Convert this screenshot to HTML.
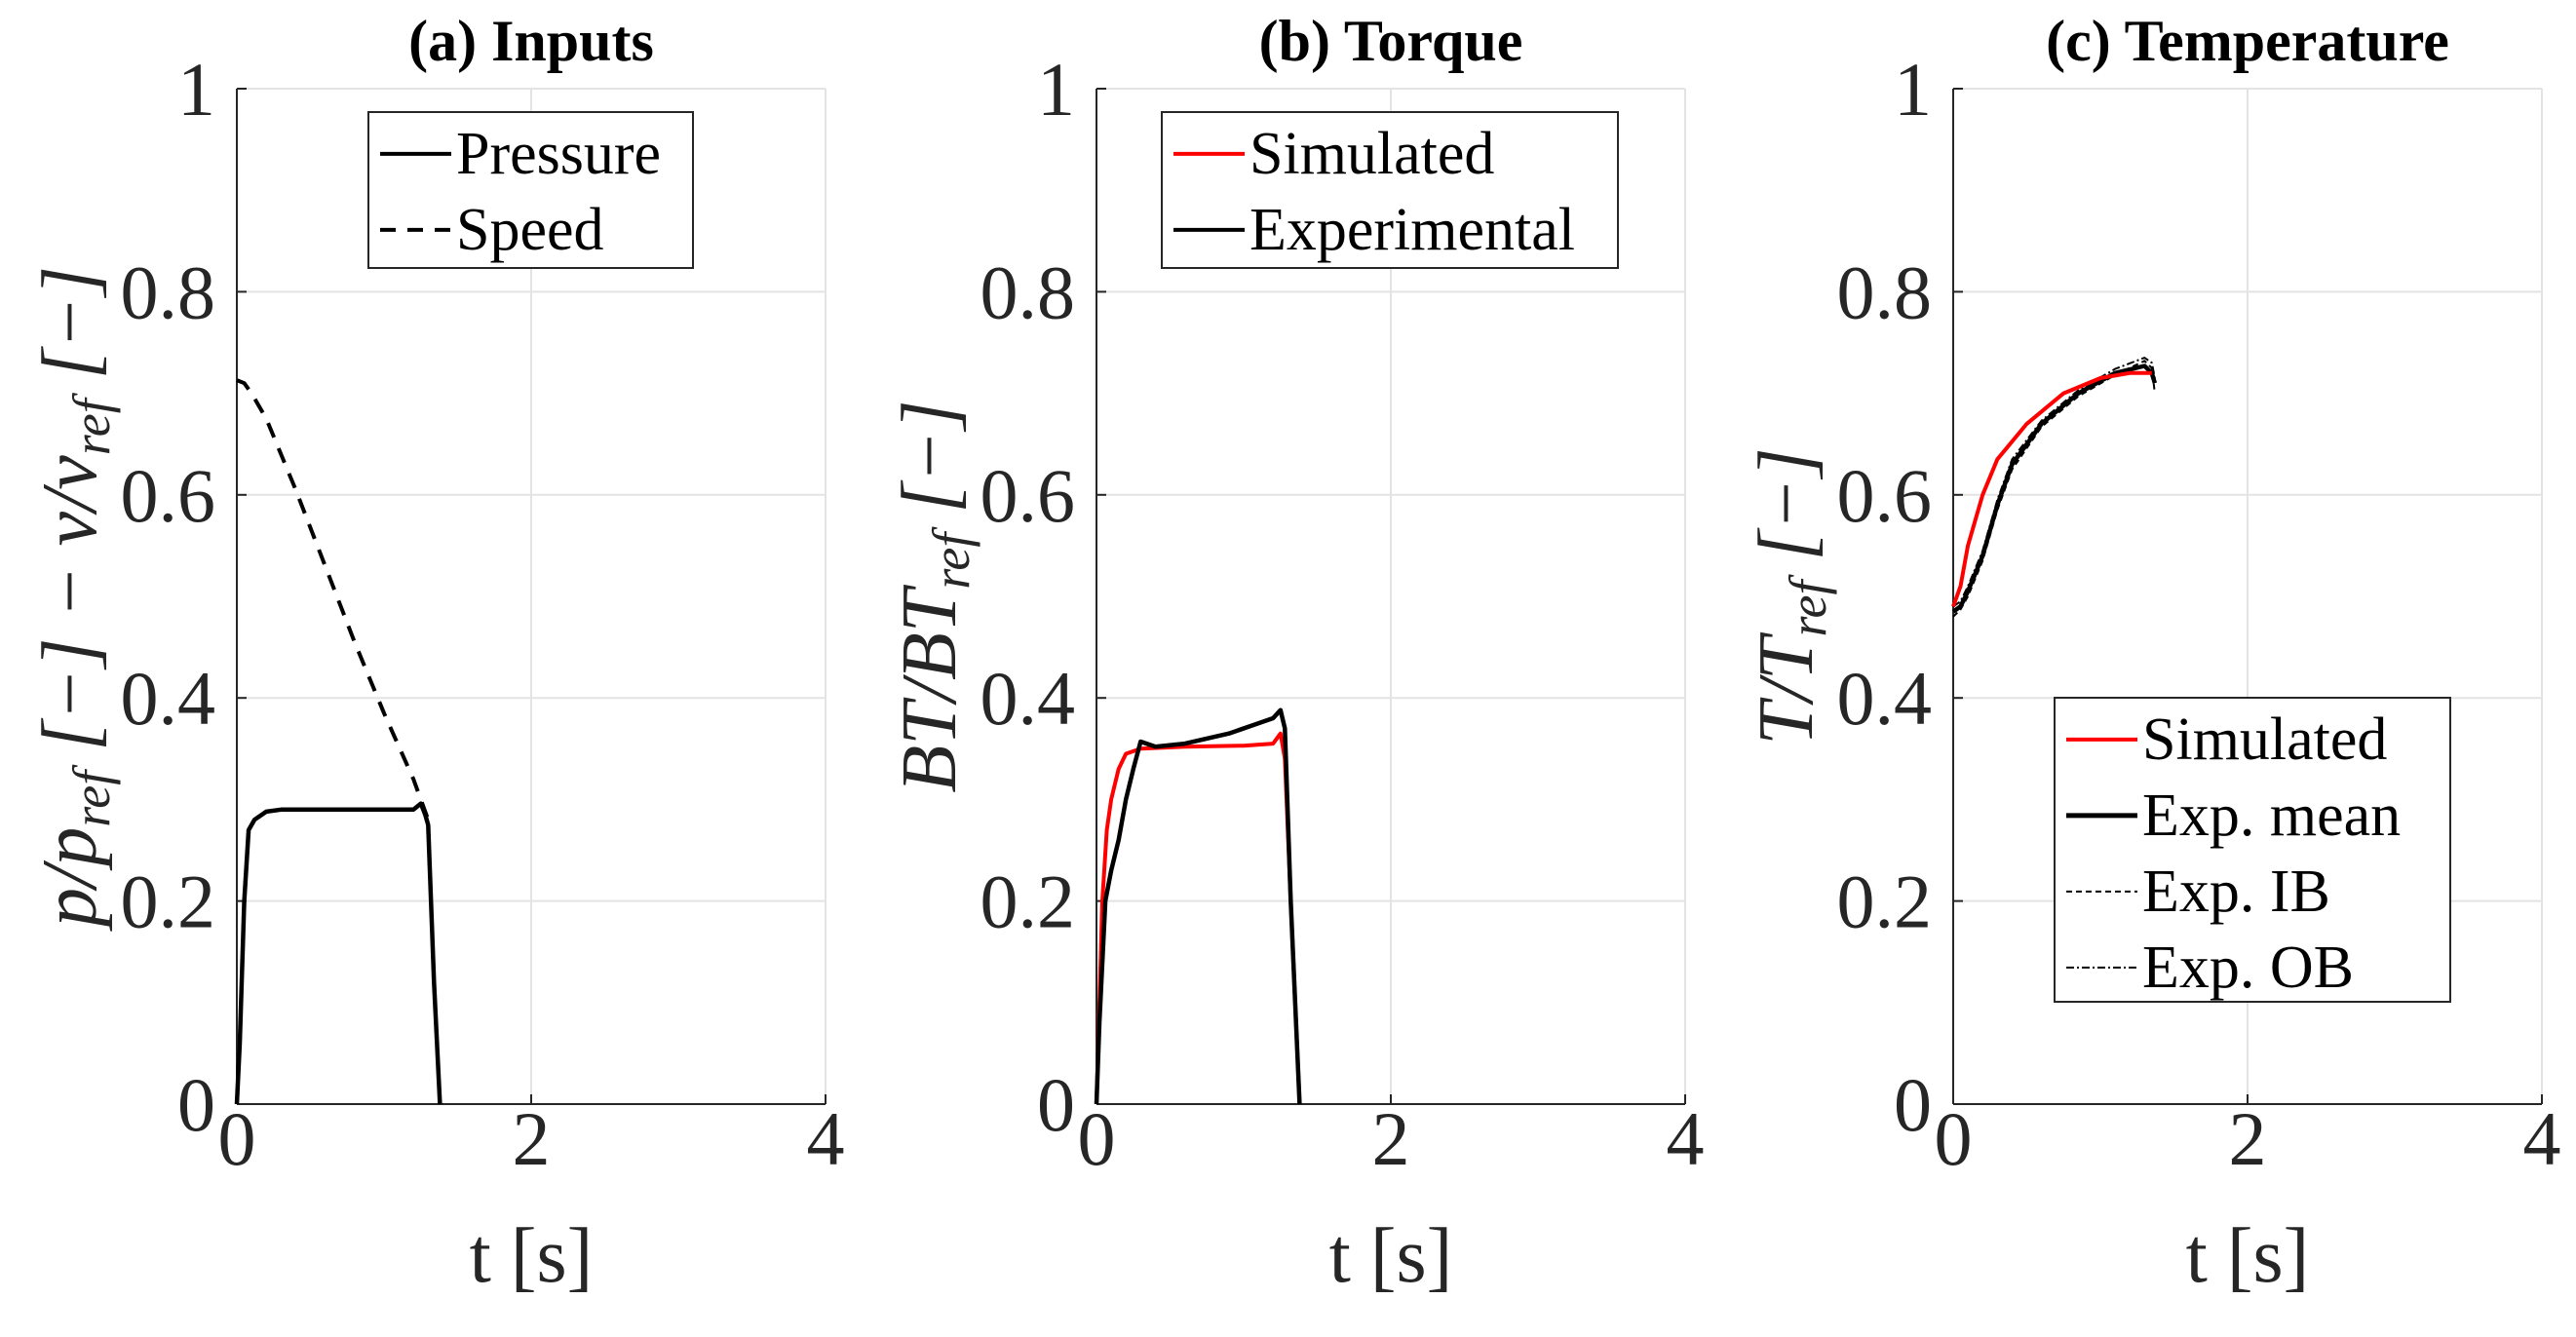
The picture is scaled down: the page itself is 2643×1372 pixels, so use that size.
<!DOCTYPE html>
<html><head><meta charset="utf-8"><style>
body{margin:0;background:#fff}
svg text{font-family:"Liberation Serif",serif;fill:#262626}
</style></head><body>
<svg id="c" width="2643" height="1367" xmlns="http://www.w3.org/2000/svg"></svg>
<script>
const xTicks=[0,2,4];
const yTicks=[0,0.2,0.4,0.6,0.8,1];
const aPressT=[0,0.02,0.05,0.08,0.12,0.2,0.3,0.6,1.0,1.2,1.25,1.28,1.3,1.34,1.38];
const aPressV=[0,0.06,0.2,0.27,0.28,0.288,0.29,0.29,0.29,0.29,0.296,0.285,0.275,0.12,0];
const aSpeedT=[0,0.05,0.1,0.2,0.4,0.6,0.8,1.0,1.2,1.3];
const aSpeedV=[0.713,0.71,0.70,0.675,0.605,0.53,0.455,0.385,0.32,0.28];
const bSimT=[0,0.02,0.04,0.07,0.1,0.15,0.2,0.3,0.6,1.0,1.2,1.25,1.28,1.32,1.38];
const bSimV=[0,0.1,0.2,0.27,0.3,0.33,0.345,0.35,0.352,0.353,0.355,0.365,0.34,0.2,0];
const bExpT=[0,0.02,0.06,0.1,0.15,0.2,0.25,0.3,0.4,0.6,0.9,1.1,1.2,1.25,1.28,1.32,1.38];
const bExpV=[0,0.08,0.2,0.23,0.26,0.3,0.33,0.357,0.352,0.355,0.365,0.375,0.38,0.388,0.37,0.2,0];
const cSimT=[0,0.05,0.1,0.2,0.3,0.5,0.75,1.0,1.2,1.35];
const cSimV=[0.49,0.51,0.55,0.6,0.635,0.67,0.70,0.715,0.72,0.72];
const cMeanT=[0,0.05,0.1,0.2,0.3,0.4,0.6,0.85,1.1,1.3,1.35,1.37];
const cMeanV=[0.485,0.49,0.505,0.54,0.59,0.63,0.67,0.70,0.72,0.727,0.72,0.71];
const cIBV=[0.48,0.487,0.50,0.535,0.585,0.625,0.667,0.697,0.718,0.732,0.725,0.70];
const cOBV=[0.49,0.495,0.51,0.545,0.595,0.635,0.673,0.703,0.724,0.735,0.73,0.715];

const NS='http://www.w3.org/2000/svg',svg=document.getElementById('c');
function mk(t,a,p){const e=document.createElementNS(NS,t);for(const k in a)e.setAttribute(k,a[k]);(p||svg).appendChild(e);return e;}
const Y0=1133,Y1=91,W=604;
function panel(x0,title,ylabel,name){
 const g=mk('g',{});
 
 
 const sx=v=>x0+v/4*W, sy=v=>Y0+(Y1-Y0)*v;
 xTicks.forEach(t=>{const l=mk('line',{x1:sx(t),x2:sx(t),y1:Y1,y2:Y0,stroke:'#e3e3e3','stroke-width':2},g);});
 yTicks.forEach(t=>{const l=mk('line',{x1:x0,x2:x0+W,y1:sy(t),y2:sy(t),stroke:'#e3e3e3','stroke-width':2},g);});
 mk('line',{x1:x0,x2:x0,y1:Y1,y2:Y0,stroke:'#262626','stroke-width':2},g);
 mk('line',{x1:x0,x2:x0+W,y1:Y0,y2:Y0,stroke:'#262626','stroke-width':2},g);
 xTicks.forEach(t=>{mk('line',{x1:sx(t),x2:sx(t),y1:Y0,y2:Y0-10,stroke:'#262626','stroke-width':2},g);
  const tx=mk('text',{x:sx(t),y:Y0+62,'font-size':78,'text-anchor':'middle'},g);tx.textContent=t;
  });
 yTicks.forEach(t=>{mk('line',{x1:x0,x2:x0+10,y1:sy(t),y2:sy(t),stroke:'#262626','stroke-width':2},g);
  const tx=mk('text',{x:x0-22,y:sy(t)+27,'font-size':78,'text-anchor':'end'},g);tx.textContent=t;
  });
 const ti=mk('text',{x:x0+W/2,y:62,'font-size':60,'font-weight':'bold','text-anchor':'middle',style:'fill:#000'},g);ti.textContent=title;
 
 const xl=mk('text',{x:x0+W/2,y:1315,'font-size':80,'text-anchor':'middle'},g);xl.textContent='t [s]';
 
 const yl=mk('text',{x:0,y:0,'font-size':80,'font-style':'italic','text-anchor':'middle',transform:`translate(${x0-145},612) rotate(-90)`},g);
 yl.innerHTML=ylabel;
 
 return {g,sx,sy};
}
function line(P,T,V,color,w,dash,name){
 const d=T.map((t,i)=>(i?'L':'M')+P.sx(t).toFixed(1)+','+P.sy(V[i]).toFixed(1)).join('');
 const p=mk('path',{d,fill:'none',stroke:color,'stroke-width':w,'stroke-dasharray':dash||'none','stroke-linejoin':'round'},P.g);
 
 
}
function legend(x,y,w,h,items,name,lh,fs){
 const g=mk('g',{});
 
 
 mk('rect',{x,y,width:w,height:h,fill:'#fff',stroke:'#262626','stroke-width':2},g);
 items.forEach((it,i)=>{const cy=y+lh*0.55+i*lh;
  mk('line',{x1:x+12,x2:x+85,y1:cy,y2:cy,stroke:it[1],'stroke-width':it[2],'stroke-dasharray':it[3]||'none'},g);
  const t=mk('text',{x:x+90,y:cy+20,'font-size':fs,style:'fill:#000'},g);t.textContent=it[0];
  });
}
const A=panel(243,'(a) Inputs','p/p<tspan font-size="54" dy="14">ref</tspan><tspan dy="-14"> [−] − v/v</tspan><tspan font-size="54" dy="14">ref</tspan><tspan dy="-14"> [−]</tspan>','panel-inputs');
line(A,aSpeedT,aSpeedV,'#000',4,'16,12','speed-line');
line(A,aPressT,aPressV,'#000',4.5,null,'pressure-line');
legend(378,115,333,160,[['Pressure','#000',4],['Speed','#000',4,'16,12']],'legend-inputs',78,62);
const B=panel(1125,'(b) Torque','BT/BT<tspan font-size="54" dy="14">ref</tspan><tspan dy="-14"> [−]</tspan>','panel-torque');
line(B,bSimT,bSimV,'#f00',4,null,'simulated-torque');
line(B,bExpT,bExpV,'#000',4.5,null,'experimental-torque');
legend(1192,115,468,160,[['Simulated','#f00',4],['Experimental','#000',4]],'legend-torque',78,62);
const C=panel(2004,'(c) Temperature','T/T<tspan font-size="54" dy="14">ref</tspan><tspan dy="-14"> [−]</tspan>','panel-temperature');
line(C,cMeanT,cIBV,'#000',2,'6,4','exp-ib');
line(C,cMeanT,cOBV,'#000',2,'8,3,2,3','exp-ob');
line(C,cMeanT,cMeanV,'#000',4.5,null,'exp-mean');
line(C,cSimT,cSimV,'#f00',4,null,'simulated-temp');
legend(2108,716,406,312,[['Simulated','#f00',4],['Exp. mean','#000',5],['Exp. IB','#000',2,'6,4'],['Exp. OB','#000',2,'8,3,2,3']],'legend-temperature',78,62);
</script>
</body></html>
